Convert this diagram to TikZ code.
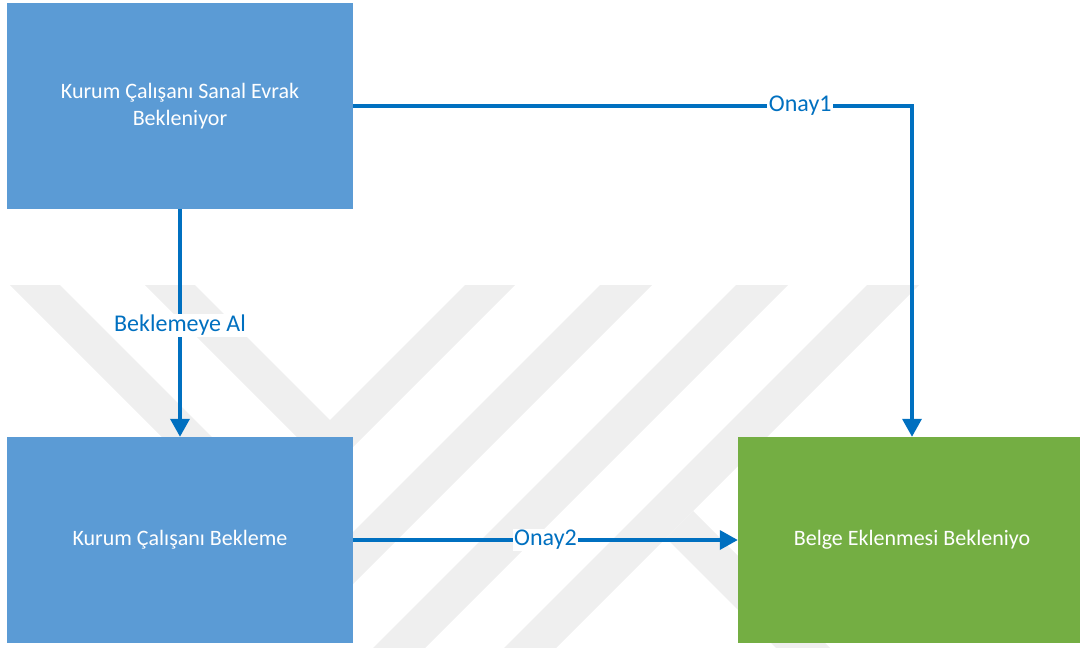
\documentclass[tikz,border=0pt]{standalone}
\usepackage{fontspec}
\setmainfont{Carlito}
\usetikzlibrary{arrows.meta}
\definecolor{boxblue}{HTML}{5B9BD5}
\definecolor{boxgreen}{HTML}{74AE43}
\definecolor{flowblue}{HTML}{0070C0}
\definecolor{wmgray}{HTML}{EFEFEF}

\begin{document}
\begin{tikzpicture}[x=1pt,y=-1pt,
  statebox/.style={rectangle, minimum height=206pt, inner sep=0pt,
    text=white, font=\fontsize{22}{27}\selectfont, align=center},
  flowline/.style={draw=flowblue, line width=3.5pt,
    -{Triangle[length=18pt,width=19pt]}},
  flowlabel/.style={fill=white, text=flowblue,
    font=\fontsize{24}{28}\selectfont, inner sep=1.5pt}]
\useasboundingbox (0,0) rectangle (1080,648);

% faint background emblem
\begin{scope}
  \clip (0,0) rectangle (1080,648);
  \fill[wmgray] (10,285) -- (60,285) -- (330,555) -- (600,285) -- (652,285) -- (331,606) -- cycle;
  \fill[wmgray] (145,285) -- (195,285) -- (330,420) -- (465,285) -- (515,285) -- (330,470) -- cycle;
  \fill[wmgray] (736,285) -- (788,285) -- (395,678) -- (343,678) -- cycle;
  \fill[wmgray] (867,285) -- (919,285) -- (526,678) -- (474,678) -- cycle;
  \fill[wmgray] (693,511) -- (666,538) -- (800,672) -- (854,672) -- cycle;
\end{scope}

% states
\node[statebox, fill=boxblue, minimum width=346pt] (A) at (180,106)
  {Kurum Çalışanı Sanal Evrak\\Bekleniyor};
\node[statebox, fill=boxblue, minimum width=346pt] (B) at (180,540)
  {Kurum Çalışanı Bekleme};
\node[statebox, fill=boxgreen, minimum width=348pt] (C) at (912,540)
  {Belge Eklenmesi Bekleniyo};

% transitions
\draw[flowline] (A.east) -| node[flowlabel, pos=0.4] (l1) {Onay1} (C.north);
\draw[flowline] (A.south) -- node[flowlabel, pos=0.51] (l2) {Beklemeye Al} (B.north);
\draw[flowline] (B.east) -- node[flowlabel, pos=0.5] (l3) {Onay2} (C.west);
\end{tikzpicture}
\end{document}
